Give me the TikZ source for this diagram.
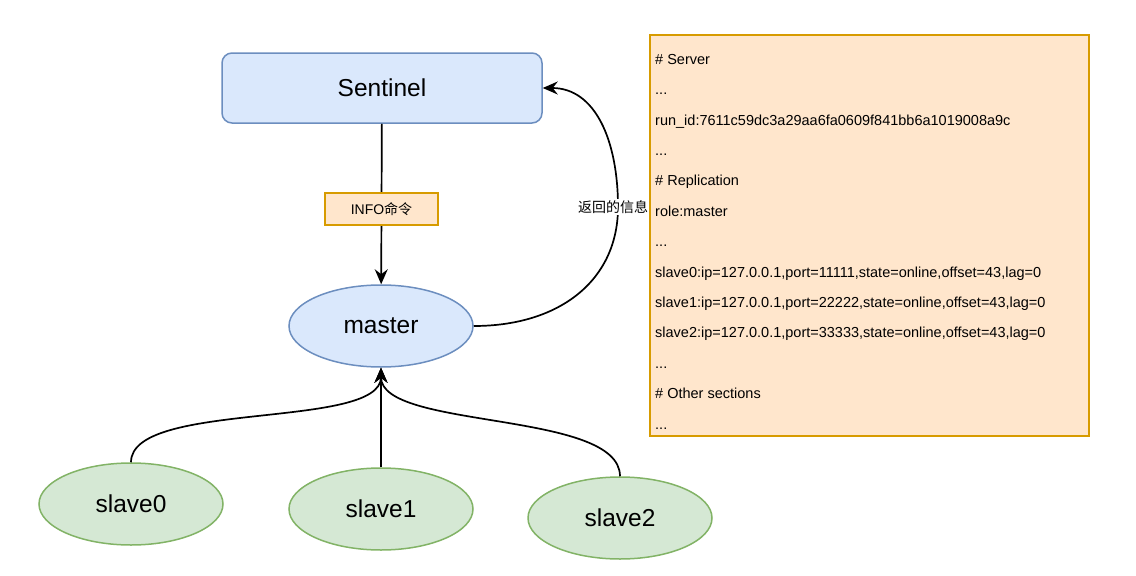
\documentclass[tikz,border=0pt]{standalone}
\usepackage{fontspec}
\setmainfont{Liberation Sans}
\newfontfamily\cjk{Noto Sans CJK SC}
\usetikzlibrary{arrows.meta,shapes.geometric}

\definecolor{blueFill}{HTML}{DAE8FC}
\definecolor{blueLine}{HTML}{6C8EBF}
\definecolor{greenFill}{HTML}{D5E8D4}
\definecolor{greenLine}{HTML}{82B366}
\definecolor{orangeFill}{HTML}{FFE6CC}
\definecolor{orangeLine}{HTML}{D79B00}

\tikzset{
  sentinel/.style={draw=blueLine, fill=blueFill, line width=1.5pt, rounded corners=10pt,
    minimum width=320pt, minimum height=70pt, font=\fontsize{24.5}{28}\selectfont},
  redis/.style={ellipse, line width=1.5pt, inner sep=0pt,
    minimum width=184pt, minimum height=82pt, font=\fontsize{24.5}{28}\selectfont},
  master/.style={redis, draw=blueLine, fill=blueFill},
  slave/.style={redis, draw=greenLine, fill=greenFill},
  tag/.style={draw=orangeLine, fill=orangeFill, line width=1.5pt,
    minimum width=113pt, minimum height=32pt, font=\fontsize{14}{17}\selectfont},
  note/.style={draw=orangeLine, fill=orangeFill, line width=1.5pt,
    minimum width=439pt, minimum height=401pt},
  arr/.style={-{Stealth[length=15pt,width=13pt,inset=5pt]}, line width=1.7pt},
}

\begin{document}
\begin{tikzpicture}[x=1pt,y=-1pt]
  \useasboundingbox (0,0) rectangle (1136,576);

  \node[sentinel] (S)  at (382,88)  {Sentinel};
  \node[master]   (M)  at (381,326) {master};
  \node[slave]    (s0) at (131,504) {slave0};
  \node[slave]    (s1) at (381,509) {slave1};
  \node[slave]    (s2) at (620,518) {slave2};

  % INFO command and the reply
  \draw [arr] (S) -- node[tag, pos=0.53] (cmd) {INFO{\cjk 命令}} (M);
  \coordinate (r) at (618,207);
  \draw [arr] (M.east) .. controls (560,326) and (618,280) .. (r)
                       .. controls (618,140) and (595,88) .. (S.east);
  \node[fill=white, inner sep=1pt, font=\fontsize{14}{17}\selectfont\cjk] (ret) at (613,207) {返回的信息};

  % slaves
  \draw [arr] (s0.north) .. controls (131,400) and (381,430) .. (M.south);
  \draw [arr] (s1.north) -- (M.south);
  \draw [arr] (s2.north) .. controls (620,410) and (381,430) .. (M.south);

  % INFO output
  \node[note] (infobox) at (869.5,235.5) {};
  \node[anchor=north west, align=left, inner sep=0pt,
        font=\fontsize{14.5}{30.4}\selectfont] (infotext) at (655,54) {%
    \# Server\\
    ...\\
    run\_id:7611c59dc3a29aa6fa0609f841bb6a1019008a9c\\
    ...\\
    \# Replication\\
    role:master\\
    ...\\
    slave0:ip=127.0.0.1,port=11111,state=online,offset=43,lag=0\\
    slave1:ip=127.0.0.1,port=22222,state=online,offset=43,lag=0\\
    slave2:ip=127.0.0.1,port=33333,state=online,offset=43,lag=0\\
    ...\\
    \# Other sections\\
    ...};
\end{tikzpicture}
\end{document}
